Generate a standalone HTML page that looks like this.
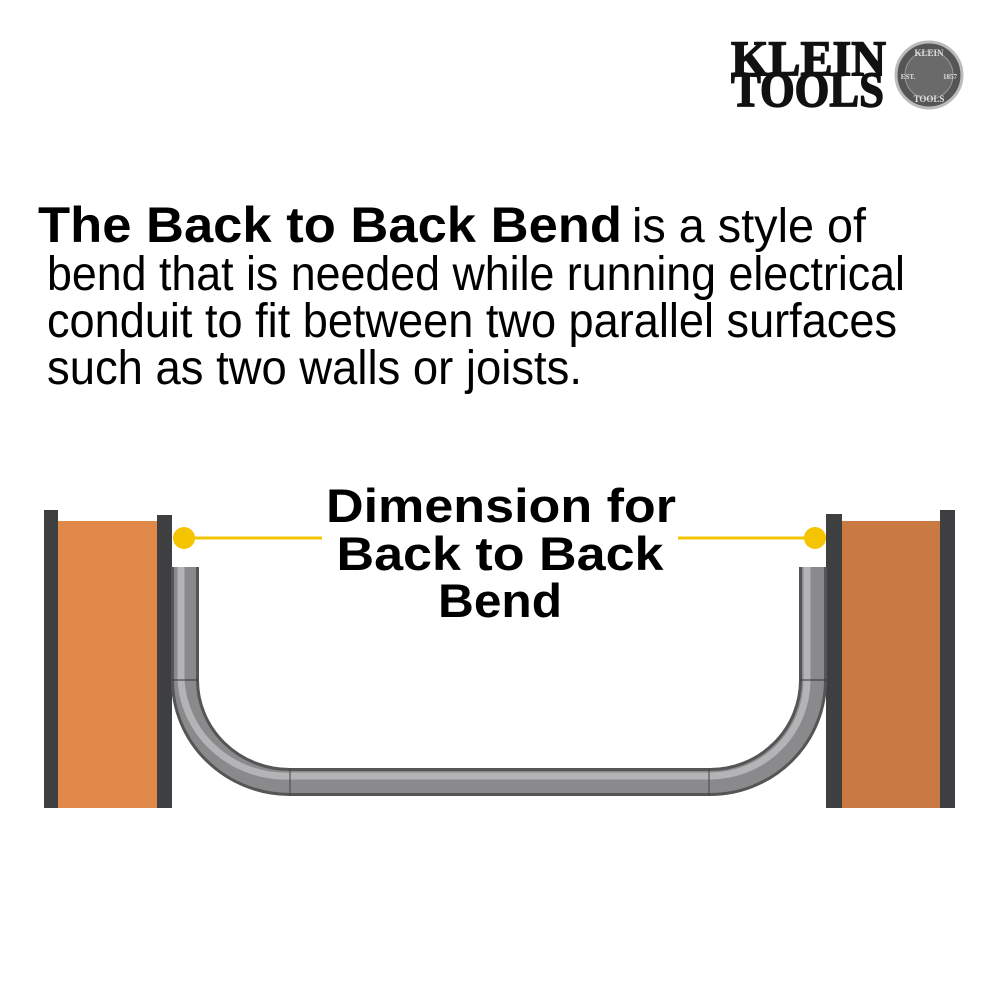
<!DOCTYPE html>
<html><head><meta charset="utf-8"><style>
html,body{margin:0;padding:0;background:#fff;width:1000px;height:1000px;overflow:hidden}
</style></head><body>
<svg width="1000" height="1000" viewBox="0 0 1000 1000" xmlns="http://www.w3.org/2000/svg">
<!-- Logo -->
<text x="731" y="75" font-family="Liberation Serif, serif" font-weight="bold" font-size="50" textLength="155" lengthAdjust="spacingAndGlyphs" fill="#111" stroke="#111" stroke-width="1.5">KLEIN</text>
<text x="731" y="106" font-family="Liberation Serif, serif" font-weight="bold" font-size="50" textLength="153" lengthAdjust="spacingAndGlyphs" fill="#111" stroke="#111" stroke-width="1.5">TOOLS</text>
<circle cx="929" cy="75" r="33" fill="#555" stroke="#bbb" stroke-width="3"/>
<circle cx="929" cy="75" r="24" fill="#6a6a6a" stroke="#999" stroke-width="1"/>
<text x="929" y="56" font-family="Liberation Serif, serif" font-weight="bold" font-size="9" fill="#ddd" text-anchor="middle">KLEIN</text>
<text x="929" y="102" font-family="Liberation Serif, serif" font-weight="bold" font-size="9" fill="#ddd" text-anchor="middle">TOOLS</text>
<text x="908" y="79" font-family="Liberation Serif, serif" font-weight="bold" font-size="7" fill="#ddd" text-anchor="middle">EST.</text>
<text x="950" y="79" font-family="Liberation Serif, serif" font-weight="bold" font-size="7" fill="#ddd" text-anchor="middle">1857</text>

<!-- Heading -->
<g font-family="Liberation Sans, Arial, sans-serif" fill="#000">
<text x="38" y="242" font-weight="bold" font-size="50" textLength="584" lengthAdjust="spacingAndGlyphs">The Back to Back Bend</text>
<text x="632" y="242" font-size="48" textLength="234" lengthAdjust="spacingAndGlyphs">is a style of</text>
<text x="47" y="290" font-size="48" textLength="858" lengthAdjust="spacingAndGlyphs">bend that is needed while running electrical</text>
<text x="47" y="337" font-size="48" textLength="850" lengthAdjust="spacingAndGlyphs">conduit to fit between two parallel surfaces</text>
<text x="47" y="384" font-size="48" textLength="535" lengthAdjust="spacingAndGlyphs">such as two walls or joists.</text>
</g>

<!-- Left wall -->
<rect x="44" y="510" width="14" height="298" fill="#3e3f41"/>
<rect x="58" y="521" width="99" height="287" fill="#e08848"/>
<rect x="157" y="515" width="15" height="293" fill="#3e3f41"/>
<!-- Right wall -->
<rect x="826" y="514" width="16" height="294" fill="#3e3f41"/>
<rect x="842" y="521" width="98" height="287" fill="#c87a42"/>
<rect x="940" y="510" width="15" height="298" fill="#3e3f41"/>

<!-- Pipe -->
<path d="M185,567 V680 A105,102 0 0 0 290,782 H710 A103,102 0 0 0 813,680 V567" fill="none" stroke="#555" stroke-width="28"/>
<path d="M185,567 V680 A105,102 0 0 0 290,782 H710 A103,102 0 0 0 813,680 V567" fill="none" stroke="#8a8a8c" stroke-width="22"/>
<path d="M181,567 V680 A105,102 0 0 0 290,776 H710 A97,96 0 0 0 807,680 V567" fill="none" stroke="#b4b4b6" stroke-width="7"/>
<line x1="172" y1="680" x2="198" y2="680" stroke="#333" stroke-width="1"/>
<line x1="800" y1="680" x2="826" y2="680" stroke="#333" stroke-width="1"/>
<line x1="290" y1="768" x2="290" y2="796" stroke="#444" stroke-width="1"/>
<line x1="709" y1="768" x2="709" y2="796" stroke="#444" stroke-width="1"/>

<!-- Dimension -->
<line x1="184" y1="538" x2="322" y2="538" stroke="#f5c400" stroke-width="3"/>
<line x1="678" y1="538" x2="815" y2="538" stroke="#f5c400" stroke-width="3"/>
<circle cx="184" cy="538" r="11" fill="#f5c400"/>
<circle cx="815" cy="538" r="11" fill="#f5c400"/>
<g font-family="Liberation Sans, Arial, sans-serif" font-weight="bold" font-size="47" fill="#000" text-anchor="middle">
<text x="501" y="522" textLength="350" lengthAdjust="spacingAndGlyphs">Dimension for</text>
<text x="500" y="570" textLength="327" lengthAdjust="spacingAndGlyphs">Back to Back</text>
<text x="500" y="617" textLength="124" lengthAdjust="spacingAndGlyphs">Bend</text>
</g>
</svg>
</body></html>
